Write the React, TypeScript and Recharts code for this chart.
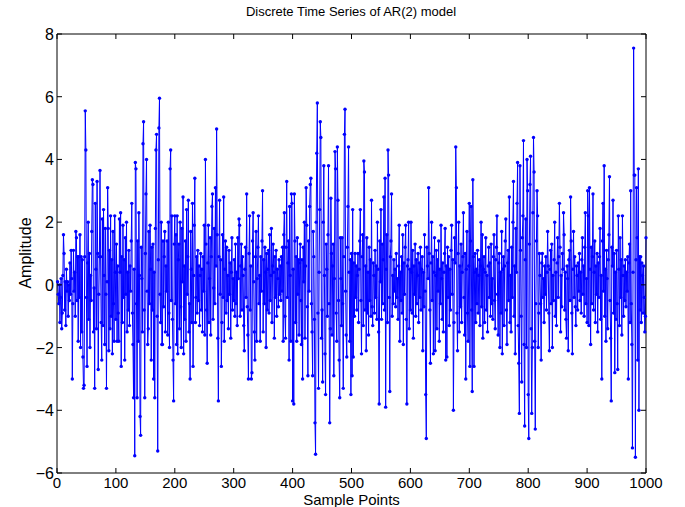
import React from "react";
import { LineChart, Line, XAxis, YAxis } from "recharts";

// AR(2) samples in blocks of 100
const seg0 = [
  0.1, -0.3, -0.6, 0.0, -1.2, -0.4, 0.2, -1.4, -0.9, 0.3,
  1.6, 1.0, -0.8, 0.1, -1.3, 0.5, -0.2, 0.1, -1.0, 0.0,
  -0.5, 0.7, -0.3, 1.1, 0.2, -3.0, -0.6, 1.1, -0.2, 0.4,
  -1.0, 1.7, 1.5, -0.5, 0.9, -1.8, 0.9, -0.4, 1.6, -2.0,
  0.9, -1.5, 0.8, -2.3, -3.3, -3.2, 0.9, 5.55, 4.3, -0.4,
  -2.6, 0.7, 2.0, -1.1, 1.0, -2.0, 0.3, -0.5, 1.7, 3.35,
  3.2, -1.5, -0.1, -3.3, 2.6, 0.5, -1.4, 3.3, 1.0, -2.7,
  -0.3, 0.9, 3.65, 0.9, -1.2, -2.4, 2.1, -1.3, 2.4, 0.3,
  -1.9, 1.8, -0.3, -3.3, 0.1, 3.1, 1.8, -2.1, 1.1, -1.4,
  2.2, -1.0, 0.8, -2.2, 1.7, -0.6, -1.8, 2.2, 0.4, -1.1,
];
const seg1 = [
  1.3, -1.8, 0.6, -0.9, -1.8, 2.1, 0.4, 2.3, -2.6, 0.9,
  -1.2, 1.9, -0.4, 0.8, -2.4, 1.5, -0.3, 2.0, -1.5, 0.4,
  -0.8, 1.1, -1.3, 0.6, -0.2, 1.4, 2.6, -0.9, -1.9, -3.6,
  0.5, -5.45, 3.9, 3.7, -0.6, -3.6, 1.4, -1.8, 2.3, 0.3,
  -4.2, -4.8, 1.2, 0.2, -1.5, 4.5, 5.2, -0.8, -3.6, 1.0,
  2.9, 4.0, -0.2, -1.9, -1.4, 1.7, -0.6, 1.9, 0.5, -2.4,
  1.2, -0.8, 1.3, -3.0, 0.4, -3.6, 1.8, 4.3, 4.8, -1.0,
  -5.3, 0.8, 5.0, 5.95, -0.3, -1.2, 2.0, -1.9, -1.9, 1.4,
  -0.7, 0.9, 1.7, -1.5, 0.6, -0.2, 1.4, -1.6, 2.0, -0.9,
  -2.0, 3.7, 4.3, -0.5, 2.2, -1.1, -2.4, -3.7, 1.3, 2.2,
];
const seg2 = [
  -0.6, 1.6, -1.9, 2.2, -2.2, 0.8, 1.3, -1.4, 2.0, -0.7,
  -2.0, 1.8, 0.1, 2.8, -2.2, 0.6, -1.1, 1.4, -1.8, 2.4,
  -0.3, 0.9, 2.7, -1.5, -0.6, -3.0, 1.7, 0.5, -1.2, 2.6,
  -2.6, 0.3, 1.9, 3.4, -1.2, -0.4, 0.9, -0.9, 1.1, -0.5,
  0.6, -1.3, 0.3, 1.0, -0.8, 0.5, -1.5, 0.9, -0.2, 1.9,
  -1.6, 4.0, 1.3, -0.8, -2.5, 0.7, 1.9, -1.2, 0.2, 1.5,
  -1.6, 0.9, 2.5, 2.9, -1.1, -0.1, 1.8, -0.6, 3.1, 0.6,
  4.97, 1.6, -1.7, -3.7, 0.9, 2.7, -0.3, 0.8, -2.6, -1.2,
  1.6, -0.4, 2.8, -1.8, 0.5, 1.4, -0.9, 1.2, -0.5, 0.3,
  -1.4, 1.1, -0.3, 0.7, -1.7, 0.4, 1.5, -0.8, 0.2, -0.5,
];
const seg3 = [
  0.8, -1.0, 1.3, -0.6, 0.4, -1.3, 1.5, 0.2, 2.1, 1.9,
  -1.0, 0.6, 1.3, -0.8, 0.9, 0.3, -1.3, -2.1, 0.5, 1.2,
  -0.4, 2.9, -0.7, -1.6, -3.0, 1.0, 2.2, -0.8, 0.6, -3.0,
  -2.8, 1.4, 2.3, 0.1, -1.5, -2.4, 0.9, 1.7, -1.8, 0.2,
  1.2, 2.2, -0.6, 0.3, -1.8, 0.9, -0.2, 1.4, 3.0, -1.5,
  0.8, -0.6, 1.2, 0.4, -2.0, 1.0, -0.8, 0.5, 1.1, -0.9,
  1.6, -0.5, 0.3, 1.8, -1.2, 0.6, 1.3, 0.4, -1.7, 0.9,
  -0.4, 1.1, -1.0, 0.5, 0.2, -0.7, 0.8, -0.3, 0.6, -0.5,
  0.9, -0.2, 1.2, -1.8, 1.6, 2.3, -1.0, -1.7, 1.2, 3.3,
  -0.4, 0.7, 1.4, -2.4, 2.5, 0.3, -1.8, 2.9, 2.6, -3.7,
];
const seg4 = [
  0.5, -3.8, 2.9, 1.4, -1.2, 0.9, -1.8, 1.5, -0.3, 0.8,
  -1.6, 0.7, 1.3, -0.5, -1.9, 0.8, -3.0, 1.2, 0.1, 2.0,
  -1.7, 0.6, 3.1, 1.9, -0.7, -2.9, 1.4, -0.2, 2.5, 3.2,
  3.4, -0.6, -1.5, -2.9, 1.7, 0.9, -1.1, -4.4, -5.4, 2.0,
  4.2, 5.8, -0.9, -3.3, 0.4, 2.4, 5.2, 4.7, -1.7, -0.8,
  -3.1, 2.0, 3.8, 0.3, -2.2, -3.5, 1.3, 0.5, -1.0, 1.6,
  3.8, -0.6, -4.4, -1.4, 2.76, 1.0, -1.6, 0.6, 1.3, -2.9,
  0.2, 4.25, 3.7, -0.9, -1.8, 4.4, 2.7, -0.5, -2.4, -3.6,
  1.5, 0.2, -1.3, 1.5, -0.6, -3.3, 0.9, 4.8, 5.6, -0.2,
  -1.6, -2.3, 1.2, 2.5, 4.4, 0.4, -1.8, 0.8, -3.5, 1.0,
];
const seg5 = [
  -2.9, 2.4, -2.3, 0.7, -1.0, 1.0, -0.4, 0.6, -0.8, 0.3,
  1.0, -1.2, 0.5, 1.4, 2.4, -0.5, -2.2, 0.9, 1.6, -1.3,
  3.95, 3.6, -0.8, 0.6, -2.1, 1.5, -0.9, 0.4, -1.6, 1.2,
  -0.5, 0.8, -1.0, 2.7, -0.7, -1.3, 0.7, 0.3, -0.9, 1.1,
  -0.4, 0.6, -1.1, 2.0, 0.5, -1.5, -3.8, 1.4, 0.1, 2.4,
  -1.1, 1.3, -0.6, 0.8, 2.8, -0.8, 3.4, -3.9, 0.5, 1.6,
  -1.2, 4.3, 3.5, -0.4, -3.4, 0.9, 1.4, 2.9, -1.0, 0.3,
  -0.6, 0.8, -0.2, 0.5, -0.7, 1.0, -0.4, 0.2, -1.1, 0.6,
  1.9, -1.8, 0.4, -0.5, 0.9, -0.9, 1.6, -1.9, 0.7, -0.3,
  1.2, 1.9, -1.1, -3.8, 0.6, 0.8, 2.0, -1.4, 0.5, -0.8,
];
const seg6 = [
  2.0, 0.4, -0.9, 1.1, -1.7, 0.6, -0.3, 1.3, -1.0, 0.8,
  -0.6, 0.3, 1.0, -1.2, 0.7, -0.4, 1.2, -0.8, 0.5, 0.9,
  -2.1, 0.4, -0.7, 1.6, -0.2, -3.5, -4.9, 1.2, 0.6, 0.2,
  3.1, 1.0, -0.8, -2.5, 0.7, 2.0, -0.5, 0.9, -2.2, 0.4,
  1.5, -2.1, 0.3, 1.1, -1.4, 0.8, -0.2, 1.4, -1.8, 0.5,
  -0.6, 1.9, 0.2, -1.1, 0.7, -1.5, 0.4, 1.0, 1.8, -2.4,
  0.6, -2.3, 1.2, -0.4, 0.9, -1.3, 0.5, -0.8, 1.1, 1.9,
  -0.3, 0.8, -4.0, -1.2, 1.5, 0.7, 4.4, 3.1, -0.9, -2.1,
  1.0, 2.0, -1.5, 0.6, -0.7, 1.3, -1.2, 0.4, 0.9, 2.3,
  -0.4, -1.6, 1.0, -3.0, 0.5, 1.7, -0.9, -1.8, 0.6, 2.6,
];
const seg7 = [
  -2.6, 1.4, 2.5, -0.8, -3.4, 3.35, 0.9, -2.6, 0.4, 1.0,
  -1.2, 0.5, -0.6, 1.1, -0.9, 0.3, 0.8, -1.3, 0.6, 2.0,
  -0.7, 1.6, -1.7, 0.5, 0.9, -1.2, 0.4, 1.5, -0.8, 0.3,
  -1.5, 0.6, 1.2, -0.4, 0.7, -1.0, 1.3, -0.6, 0.2, -1.1,
  0.9, 1.6, -0.5, -1.4, 0.8, 1.2, 2.2, -0.3, -1.6, 0.7,
  1.0, -2.0, 0.4, -0.9, 1.7, -2.2, 0.5, 0.9, -1.3, 0.6,
  1.4, 2.1, -0.8, -1.9, 0.7, 1.1, -0.5, 2.8, -1.2, 0.3,
  -1.5, 1.2, -0.4, 2.0, 3.3, -1.0, 0.6, -2.2, 1.8, 0.4,
  2.6, 3.9, -1.3, -2.5, -4.1, 3.8, 1.1, -1.0, -3.1, 1.5,
  2.2, 4.6, -1.9, -4.5, 0.8, 2.1, -2.0, 4.0, 3.0, -3.5,
];
const seg8 = [
  -4.9, 1.3, 3.2, 4.1, -1.4, -4.1, -2.0, 2.3, 4.7, 3.6,
  -1.8, -4.6, -0.6, 1.4, 3.0, 2.2, -2.0, -0.9, 1.0, 0.3,
  -0.6, -2.4, 0.7, 1.0, -0.4, 0.2, -1.2, 0.6, -0.3, 0.9,
  -0.8, 0.4, 1.7, 0.6, -0.9, -2.1, 0.5, 1.1, -0.6, 1.3,
  -2.0, 0.3, -0.5, 0.8, 2.0, -1.0, 0.4, -1.3, 0.7, 1.5,
  -0.4, 0.9, 2.6, 1.2, -1.5, 0.3, -0.7, 1.0, 0.5, 2.3,
  1.6, -0.8, 0.4, -1.1, -1.7, 0.6, 0.2, -2.1, 0.8, 1.1,
  -0.5, 2.8, 1.4, -0.9, -2.2, 0.5, 1.7, -0.4, 0.9, -0.7,
  -1.3, 0.6, 0.3, -0.8, 0.7, -0.2, 1.0, -0.5, 0.4, -0.9,
  0.8, 1.5, -0.3, 0.6, -1.0, 1.2, 2.3, -0.6, 0.2, -1.2,
];
const seg9 = [
  3.0, 2.2, -1.3, 3.1, 0.5, -1.9, 1.2, -0.6, 0.9, 2.9,
  -0.8, 0.4, 1.4, -1.2, 0.6, -0.3, 1.0, -1.5, 0.7, -0.4,
  0.9, 1.8, -1.1, 0.3, -3.0, 1.4, 2.6, -0.2, 3.8, -1.0,
  0.5, -1.8, 1.1, 0.2, -1.4, 0.8, 1.6, 3.45, -0.5, -1.7,
  -3.7, 1.2, 0.6, 2.7, -0.9, 1.0, -2.8, 0.4, -1.1, 1.1,
  -0.6, -2.7, 2.2, 0.5, -1.3, 1.5, -0.4, 0.8, -1.6, 2.2,
  0.3, -1.0, 0.6, -0.5, 0.8, -0.7, 0.4, -0.2, 0.9, -3.0,
  0.7, 1.3, -1.2, 3.0, -0.6, -1.9, -5.2, 0.4, 7.55, 3.5,
  3.5, -5.5, 0.8, 3.1, 1.5, -2.4, 3.7, -4.0, 0.9, -0.8,
  0.9, -1.2, 0.7, 0.3, -0.9, 0.6, -0.4, -1.5, -1.0, 1.5,
];

const amplitude = [
  ...seg0, ...seg1, ...seg2, ...seg3, ...seg4,
  ...seg5, ...seg6, ...seg7, ...seg8, ...seg9,
];
const xTicks = [0, 100, 200, 300, 400, 500, 600, 700, 800, 900, 1000];
const yTicks = [-6, -4, -2, 0, 2, 4, 6, 8];

const data = amplitude.map((v, i) => ({ n: i + 1, v }));

const FONT = "'Liberation Sans', Arial, Helvetica, sans-serif";
const BLUE = "#0000ff";
const fmt = (v: number) => (v < 0 ? `\u2212${Math.abs(v)}` : `${v}`);

// MATLAB style: tick marks point into the axes box
const BottomTick = ({ x, y, payload }: any) => (
  <g>
    <line x1={x} x2={x} y1={y} y2={y - 5} stroke="#000" />
    <text x={x} y={y + 15} textAnchor="middle" fontSize={15} fontFamily={FONT} fill="#000">
      {fmt(payload.value)}
    </text>
  </g>
);
const LeftTick = ({ x, y, payload }: any) => (
  <g>
    <line x1={x} x2={x + 5} y1={y} y2={y} stroke="#000" />
    <text x={x - 3} y={y + 6} textAnchor="end" fontSize={16} fontFamily={FONT} fill="#000">
      {fmt(payload.value)}
    </text>
  </g>
);
const TopTick = ({ x, y }: any) => (
  <line x1={x} x2={x} y1={y} y2={y + 5} stroke="#000" />
);
const RightTick = ({ x, y }: any) => (
  <line x1={x} x2={x - 5} y1={y} y2={y} stroke="#000" />
);

export default function App() {
  return (
    <div style={{ position: "absolute", left: 0, top: 0, width: 685, height: 507, background: "#fff" }}>
      <LineChart width={685} height={507} data={data} margin={{ top: 0, right: 0, bottom: 0, left: 0 }}>
        <XAxis
          dataKey="n"
          type="number"
          domain={[0, 1000]}
          ticks={xTicks}
          interval={0}
          height={34}
          tickSize={0}
          tickMargin={0}
          tickLine={false}
          tick={BottomTick}
          axisLine={{ stroke: "#000" }}
          label={{ value: "Sample Points", position: "insideBottom", offset: 2, fontSize: 15, fontFamily: FONT, fill: "#000" }}
        />
        <XAxis
          xAxisId="top"
          orientation="top"
          dataKey="n"
          type="number"
          domain={[0, 1000]}
          ticks={xTicks}
          interval={0}
          height={34}
          tickSize={0}
          tickMargin={0}
          tickLine={false}
          tick={TopTick}
          axisLine={{ stroke: "#000" }}
        />
        <YAxis
          type="number"
          domain={[-6, 8]}
          ticks={yTicks}
          interval={0}
          width={57}
          tickSize={0}
          tickMargin={0}
          tickLine={false}
          tick={LeftTick}
          axisLine={{ stroke: "#000" }}
        />
        <YAxis
          yAxisId="right"
          orientation="right"
          type="number"
          domain={[-6, 8]}
          ticks={yTicks}
          interval={0}
          width={39}
          tickSize={0}
          tickMargin={0}
          tickLine={false}
          tick={RightTick}
          axisLine={{ stroke: "#000" }}
        />
        <Line
          xAxisId="top"
          yAxisId="right"
          dataKey="v"
          stroke="none"
          dot={false}
          activeDot={false}
          isAnimationActive={false}
        />
        <Line
          dataKey="v"
          stroke={BLUE}
          strokeWidth={1}
          dot={{ r: 1.7, fill: BLUE, stroke: BLUE, strokeWidth: 0 }}
          activeDot={false}
          isAnimationActive={false}
        />
      </LineChart>
      <svg width={685} height={507} style={{ position: "absolute", left: 0, top: 0, pointerEvents: "none" }}>
        <text x={351} y={16} textAnchor="middle" fontSize={13} fontFamily={FONT} fill="#000">
          Discrete Time Series of AR(2) model
        </text>
        <text
          x={31}
          y={253}
          transform="rotate(-90 31 253)"
          textAnchor="middle"
          fontSize={16}
          fontFamily={FONT}
          fill="#000"
        >
          Amplitude
        </text>
      </svg>
    </div>
  );
}
